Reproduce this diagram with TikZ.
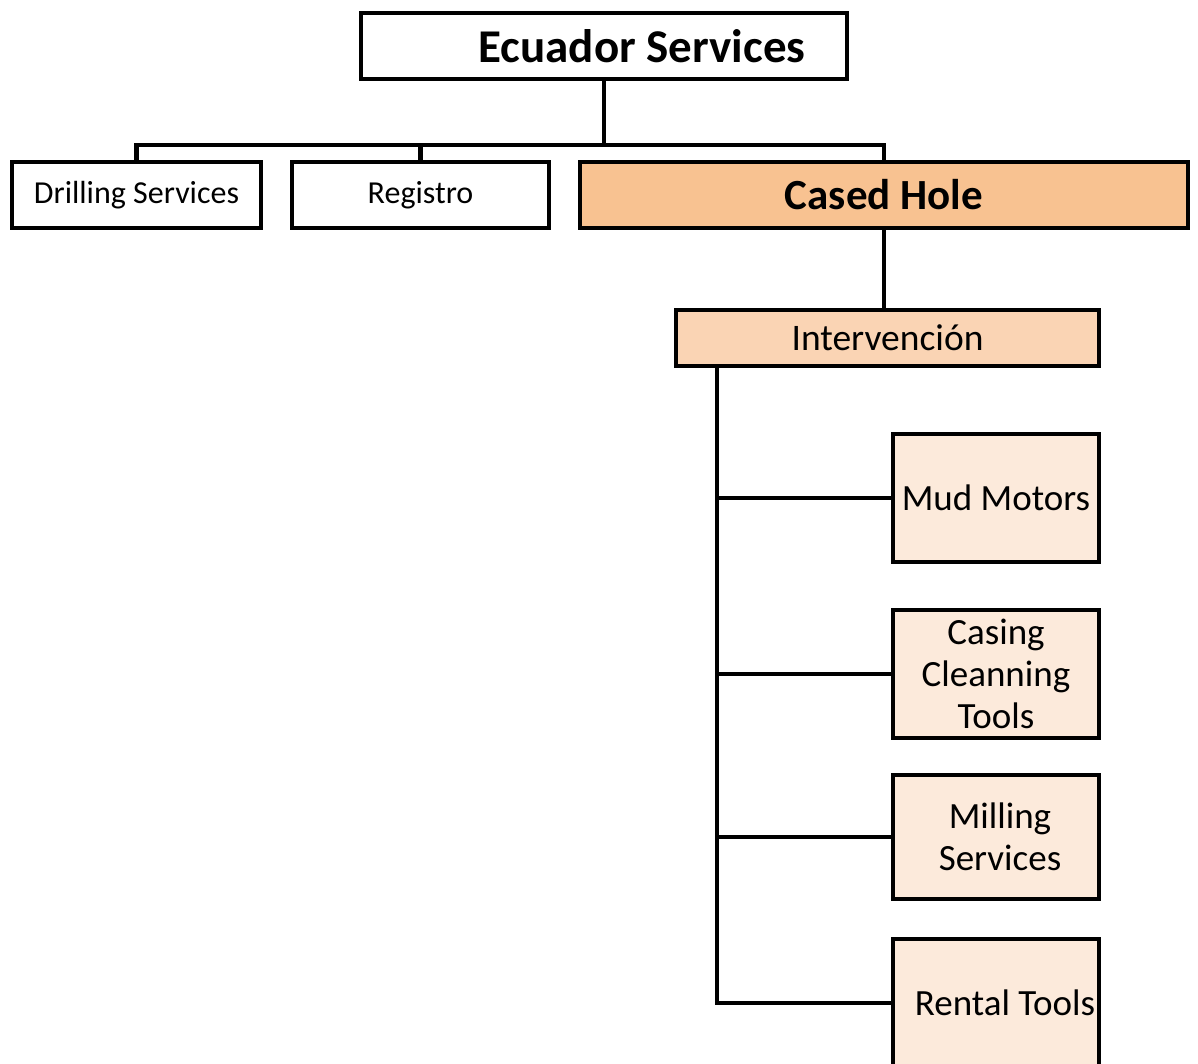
\documentclass[tikz,border=0pt]{standalone}
\usepackage{fontspec}
\setmainfont{Carlito}
\usepackage{tikz}
\usetikzlibrary{calc}

\definecolor{casedfill}{HTML}{F8C291}
\definecolor{intfill}{HTML}{FAD4B4}
\definecolor{toolfill}{HTML}{FCEADB}

\tikzset{
  box/.style={draw, line width=4.5pt, inner sep=0pt, align=center},
  wire/.style={line width=4.5pt},
  topbox/.style={box, minimum height=66pt},
  toolbox/.style={box, fill=toolfill, minimum width=206pt,
    font=\fontsize{37}{42}\selectfont}
}

\begin{document}
\begin{tikzpicture}[x=1pt,y=-1pt]
    \useasboundingbox (0,0) rectangle (1198,1064);

    \node[topbox, minimum width=486pt, font=\bfseries\fontsize{47}{52}\selectfont]
      (ecuador) at (604,46) {\hspace{76pt}Ecuador Services};

    \node[topbox, minimum width=249pt, font=\fontsize{32}{36}\selectfont]
      (drill) at (136.5,195) {Drilling Services};
    \node[topbox, minimum width=257pt, font=\fontsize{32}{36}\selectfont]
      (reg) at (420.5,195) {Registro};
    \node[topbox, minimum width=608pt, fill=casedfill,
      font=\bfseries\fontsize{43}{48}\selectfont]
      (cased) at (884,195) {Cased Hole};

    \node[box, minimum width=423pt, minimum height=56pt, fill=intfill,
      font=\fontsize{37.5}{42}\selectfont]
      (interv) at (887.5,338) {Intervención};

    \node[toolbox, minimum height=128pt] (mud) at (996,498) {Mud Motors};
    \node[toolbox, minimum height=128pt] (casing) at (996,674) {Casing\\Cleanning\\Tools};
    \node[toolbox, minimum height=124pt] (milling) at (996,837) {\hspace{8pt}Milling\\\hspace{8pt}Services};
    \node[toolbox, minimum height=128pt] (rental) at (996,1003) {\hspace{18pt}Rental Tools};

    % top level
    \coordinate (bus) at (604,145);
    \draw[wire] (ecuador.south) -- (bus);
    \draw[wire] (drill.north) |- (bus) -| (cased.north);
    \draw[wire] (reg.north) -- (reg.north |- bus);
    \draw[wire] (cased.south) -- (cased.south |- interv.north);

    % tools
    \coordinate (spine) at (717,368);
    \draw[wire] (spine) |- (rental.west);
    \foreach \t in {mud,casing,milling}
      \draw[wire] (spine |- \t.west) -- (\t.west);
\end{tikzpicture}
\end{document}
